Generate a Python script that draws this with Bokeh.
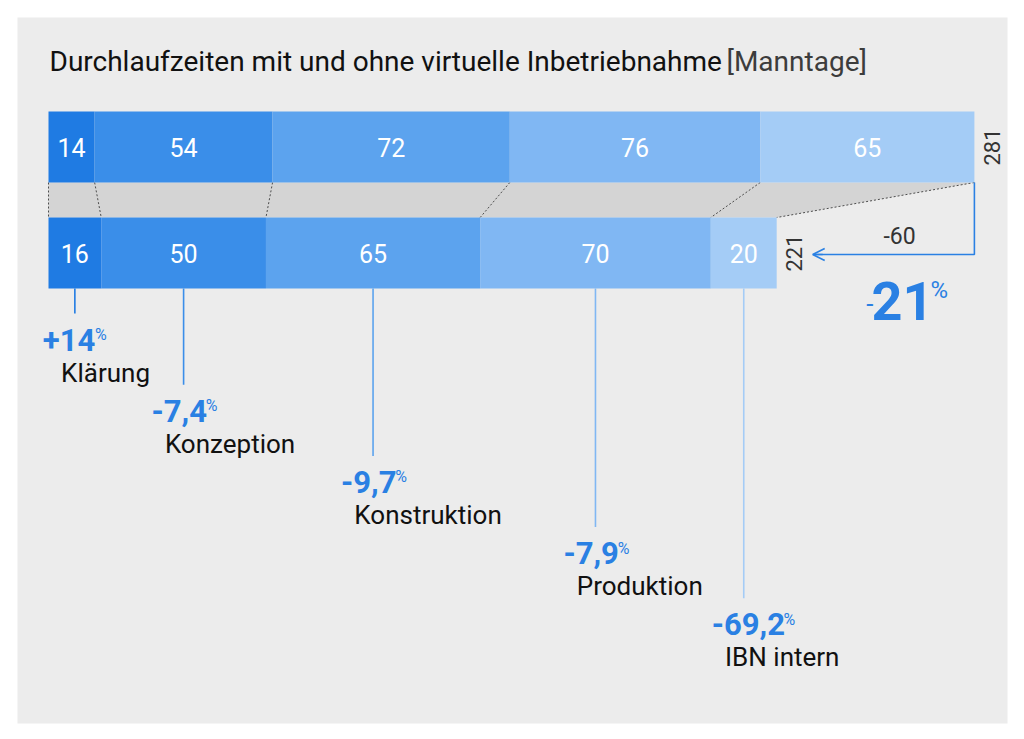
import math
from bokeh.plotting import figure
from bokeh.models import Range1d, Arrow, OpenHead
from bokeh.core.properties import value
from bokeh.embed import file_html
from bokeh.resources import INLINE

# ---------------- data ----------------
phases = ["Klärung", "Konzeption", "Konstruktion", "Produktion", "IBN intern"]
ohne_vib = [14, 54, 72, 76, 65]      # ohne virtuelle Inbetriebnahme (oben)
mit_vib = [16, 50, 65, 70, 20]       # mit virtueller Inbetriebnahme (unten)
pct_labels = ["+14", "-7,4", "-9,7", "-7,9", "-69,2"]
title_main = "Durchlaufzeiten mit und ohne virtuelle Inbetriebnahme"
title_unit = "[Manntage]"

# ---------------- style / layout ----------------
colors = ["#1f7be3", "#3a8ee9", "#5ca3ee", "#80b7f3", "#a4ccf6"]
BLUE = "#2a80e3"
FONT = "Roboto"
SCALE = 3.295        # px per Manntag
X0 = 48              # screen px of value 0
FL, FR, FT, FB = 17, 1007, 17, 723   # frame (panel) edges in screen px


def X(px):
    return (px - X0) / SCALE


def cum(vals):
    lefts, rights, acc = [], [], 0
    for v in vals:
        lefts.append(acc)
        acc += v
        rights.append(acc)
    return lefts, rights


t_left, t_right = cum(ohne_vib)
b_left, b_right = cum(mit_vib)
tot_t, tot_b = t_right[-1], b_right[-1]

p = figure(width=1016, height=732,
           x_range=Range1d(X(FL), X(FR)), y_range=Range1d(FB, FT),
           x_axis_type=None, y_axis_type=None,
           output_backend="svg", toolbar_location=None,
           min_border_left=17, min_border_right=9, min_border_top=17, min_border_bottom=9,
           background_fill_color="#ececec", border_fill_color="white",
           outline_line_color=None)
p.grid.visible = False

TOP_Y, BOT_Y, BAR_H = 146.5, 252.5, 71
t_bottom = TOP_Y + BAR_H / 2
b_top = BOT_Y - BAR_H / 2
b_bottom = BOT_Y + BAR_H / 2


def txt(xs, ys, texts, size, color, align="left", bold=False, angle=0.0):
    p.text(x=xs, y=ys, text=texts, text_color=color, text_font=value(FONT),
           text_font_size=value(f"{size}px"),
           text_font_style="bold" if bold else "normal",
           text_align=align, text_baseline="middle", angle=angle)


# connector area
p.patch(x=[0, tot_t, tot_b, 0], y=[t_bottom, t_bottom, b_top, b_top],
        fill_color="#d4d4d4", line_color=None)
p.segment(x0=[0] + t_right, y0=[t_bottom] * 6, x1=[0] + b_right, y1=[b_top] * 6,
          line_color="#4d4d4d", line_width=1, line_dash="2 2")

# bars
p.hbar(y=[TOP_Y] * 5, left=t_left, right=t_right, height=BAR_H,
       fill_color=colors, line_color=None)
p.hbar(y=[BOT_Y] * 5, left=b_left, right=b_right, height=BAR_H,
       fill_color=colors, line_color=None)

# values in bars
txt([(a + b) / 2 for a, b in zip(t_left, t_right)], [TOP_Y] * 5,
    [str(v) for v in ohne_vib], 25, "white", align="center")
txt([(a + b) / 2 for a, b in zip(b_left, b_right)], [BOT_Y] * 5,
    [str(v) for v in mit_vib], 25, "white", align="center")

# totals (rotated)
txt([tot_t + 18 / SCALE, tot_b + 17 / SCALE], [TOP_Y, BOT_Y],
    [str(tot_t), str(tot_b)], 22, "#333333", align="center", angle=math.pi / 2)

# difference arrow
ARROW_Y = 254
arrow_end = tot_b + 36 / SCALE
p.line(x=[tot_t, tot_t, arrow_end + 1 / SCALE], y=[t_bottom, ARROW_Y, ARROW_Y],
       line_color=BLUE, line_width=1.6)
p.add_layout(Arrow(end=OpenHead(size=12, line_color=BLUE, line_width=1.6),
                   x_start=arrow_end + 10 / SCALE, y_start=ARROW_Y,
                   x_end=arrow_end, y_end=ARROW_Y,
                   line_color=BLUE, line_width=1.6))
txt([(tot_t + arrow_end) / 2 + 6 / SCALE], [235], [str(tot_b - tot_t)], 23,
    "#333333", align="center")

# total percentage
tot_pct = round(100 * (tot_b - tot_t) / tot_t)
big_x = tot_t - 72 / SCALE
txt([big_x], [300], [str(abs(tot_pct))], 54, BLUE, align="center", bold=True)
txt([big_x - 29 / SCALE], [303], ["-" if tot_pct < 0 else "+"], 26, BLUE,
    align="right")
txt([big_x + 28 / SCALE], [289], ["%"], 24, BLUE)

# leader lines and phase labels
W_BOLD = {"+": 0.46, "-": 0.30, ",": 0.23}
PCT_SIZE = 31


def width_px(s, size):
    return sum(W_BOLD.get(c, 0.562) for c in s) * size


centers = [(a + b) / 2 for a, b in zip(b_left, b_right)]
STEP = 71.2
for i, (cx, name, pl) in enumerate(zip(centers, phases, pct_labels)):
    line_end = 313 + STEP * i
    p.segment(x0=[cx], y0=[b_bottom], x1=[cx], y1=[line_end],
              line_color=colors[i], line_width=1.6)
    left_px = X0 + cx * SCALE - 32
    pct_mid = 339 + STEP * i
    txt([X(left_px)], [pct_mid], [pl], PCT_SIZE, BLUE, bold=True)
    w = width_px(pl, PCT_SIZE)
    txt([X(left_px + w + 3)], [pct_mid - 5], ["%"], 16, BLUE)
    sign_w = W_BOLD.get(pl[0], 0.3) * PCT_SIZE
    txt([X(left_px + sign_w + 4)], [372 + STEP * i], [name], 26, "#111111")

# title
txt([X(49)], [61], [title_main], 28, "#111111")
txt([X(726)], [61], [title_unit], 28, "#3c3c3c")

open("out.html", "w").write(file_html(p, INLINE))
